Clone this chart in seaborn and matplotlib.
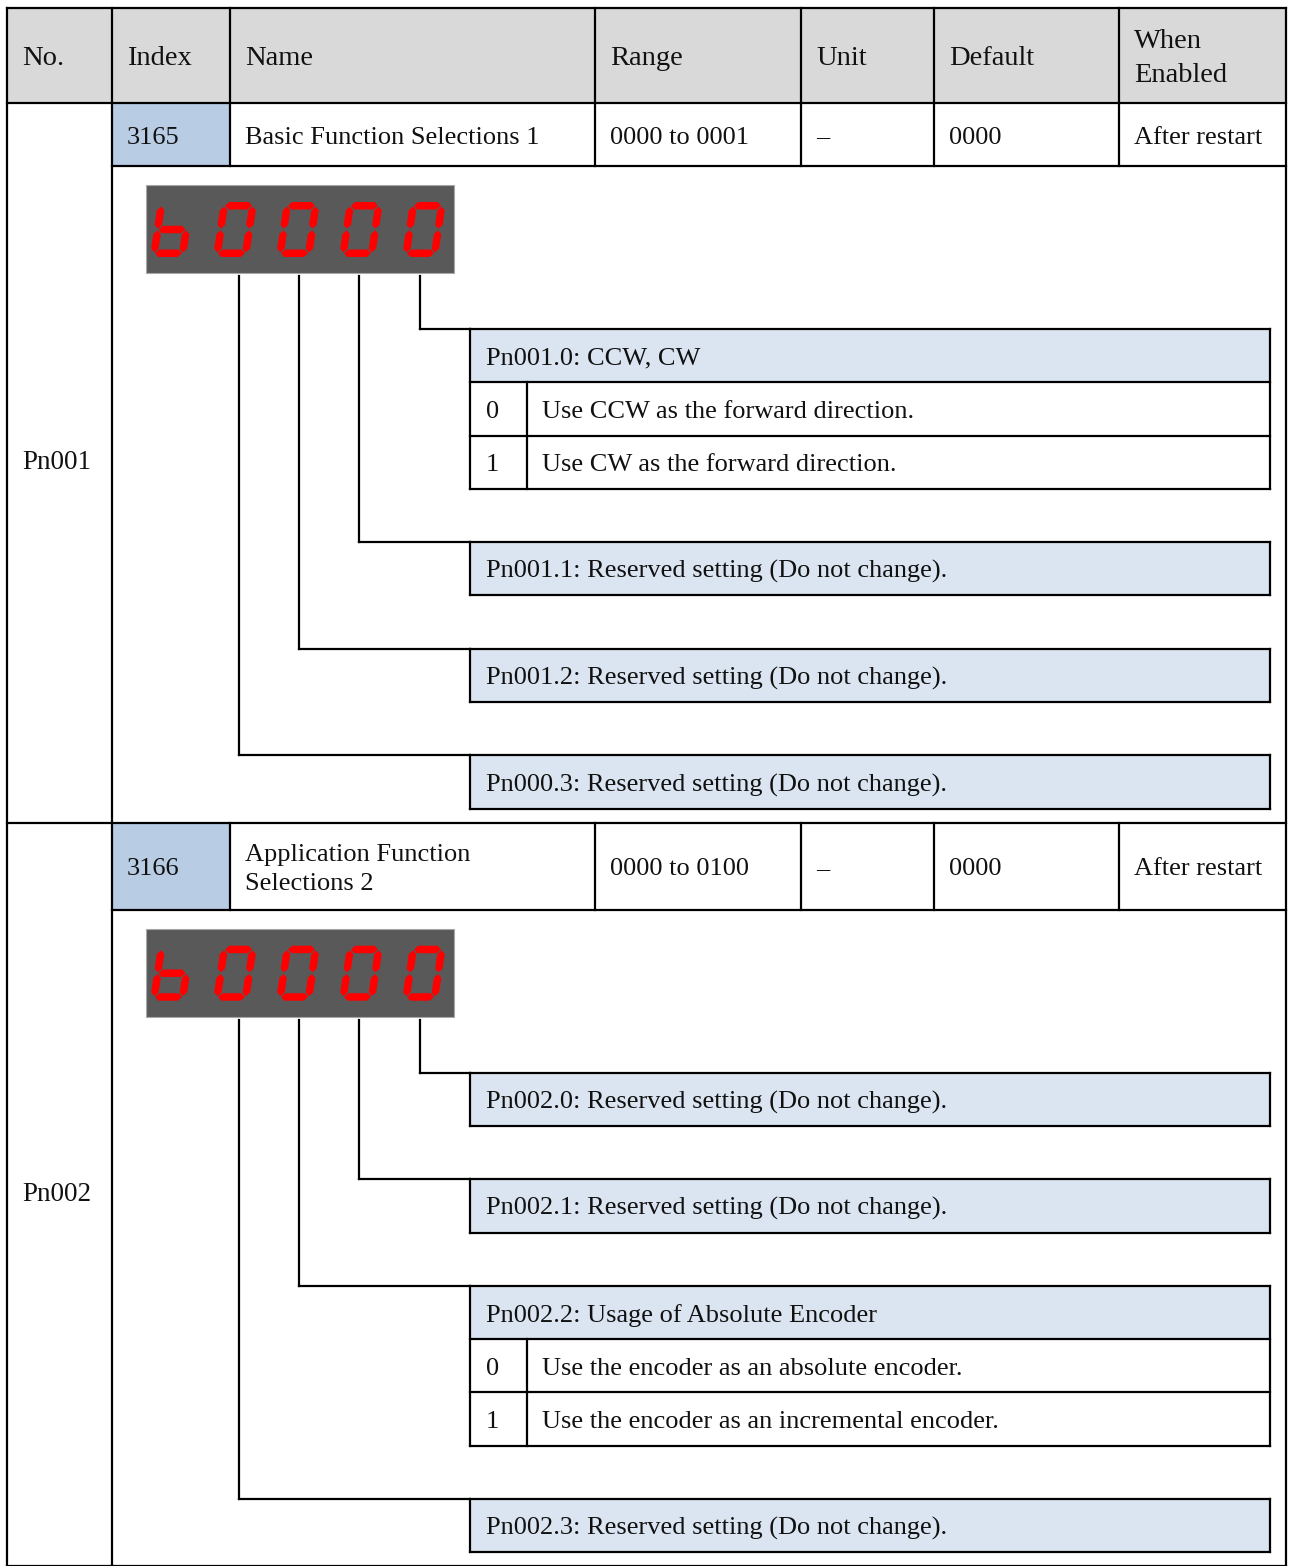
import matplotlib
matplotlib.use("Agg")
import matplotlib.pyplot as plt
from matplotlib.patches import Rectangle, Polygon
import seaborn as sns

# table header and the two parameter rows
headers = ["No.", "Index", "Name", "Range", "Unit", "Default", "When\nEnabled"]
param_no = ["Pn001", "Pn002"]
param_index = ["3165", "3166"]
param_name = ["Basic Function Selections 1", "Application Function\nSelections 2"]
param_range = ["0000 to 0001", "0000 to 0100"]
param_unit = ["\u2013", "\u2013"]
param_default = ["0000", "0000"]
param_enabled = ["After restart", "After restart"]

# what the panel shows, and which segments are lit for each glyph
display_text = "b0000"
segments_on = {"b": "cdefg", "0": "abcdef"}

# digit descriptions, digit .0 first
pn001_titles = ["Pn001.0: CCW, CW",
                "Pn001.1: Reserved setting (Do not change).",
                "Pn001.2: Reserved setting (Do not change).",
                "Pn000.3: Reserved setting (Do not change)."]
pn001_options = [[("0", "Use CCW as the forward direction."),
                  ("1", "Use CW as the forward direction.")], [], [], []]
pn002_titles = ["Pn002.0: Reserved setting (Do not change).",
                "Pn002.1: Reserved setting (Do not change).",
                "Pn002.2: Usage of Absolute Encoder",
                "Pn002.3: Reserved setting (Do not change)."]
pn002_options = [[], [],
                 [("0", "Use the encoder as an absolute encoder."),
                  ("1", "Use the encoder as an incremental encoder.")], []]

sections = [(pn001_titles, pn001_options), (pn002_titles, pn002_options)]

# layout (pixels)
W, H = 1292, 1566
col_x = [7, 112, 230, 595, 801, 934, 1119, 1286]
top, header_bot = 8, 103
row_heights = [63, 87]
connect_x = [420, 359, 299, 239]
box_l, box_r, opt_div = 470, 1270, 527
line_h = 53.3
LW = 1.6
INK = "#111111"
DY = 3  # text sits a little below the geometric middle

sns.set_theme(style="white")
plt.rcParams["font.family"] = ["Liberation Serif", "DejaVu Serif"]

fig = plt.figure(figsize=(W / 100, H / 100), dpi=100)
ax = fig.add_axes([0, 0, 1, 1])
ax.set_xlim(0, W)
ax.set_ylim(H, 0)
ax.axis("off")


def hline(y, x1, x2):
    ax.plot([x1, x2], [y, y], color="black", lw=LW, solid_capstyle="projecting")


def vline(x, y1, y2):
    ax.plot([x, x], [y1, y2], color="black", lw=LW, solid_capstyle="projecting")


def seg_poly(name, Wd=36, Hd=55, t=7.5, gap=0.8):
    ht = t / 2
    if name in "agd":
        yv = {"a": Hd - ht, "g": Hd / 2, "d": ht}[name]
        x1, x2 = ht + gap, Wd - ht - gap
        return [(x1, yv), (x1 + ht, yv + ht), (x2 - ht, yv + ht),
                (x2, yv), (x2 - ht, yv - ht), (x1 + ht, yv - ht)]
    xv = ht if name in "fe" else Wd - ht
    if name in "fb":
        y1, y2 = Hd / 2 + gap, Hd - ht - gap
    else:
        y1, y2 = ht + gap, Hd / 2 - gap
    return [(xv, y1), (xv + ht, y1 + ht), (xv + ht, y2 - ht),
            (xv, y2), (xv - ht, y2 - ht), (xv - ht, y1 + ht)]


def draw_display(y_top):
    ax.add_patch(Rectangle((146, y_top), 308, 88, facecolor="#595959",
                           edgecolor="#a8a8a8", lw=0.8))
    base = y_top + 72
    for j, ch in enumerate(display_text):
        x0 = 150 + 63 * j
        for s in segments_on[ch]:
            pts = [(x0 + x + 8 * y / 55, base - y) for x, y in seg_poly(s)]
            ax.add_patch(Polygon(pts, closed=True, facecolor="#ff0000",
                                 edgecolor="none"))


def draw_box(y_top, title, options):
    n = 1 + len(options)
    y_bot = y_top + n * line_h
    ax.add_patch(Rectangle((box_l, y_top), box_r - box_l, line_h,
                           facecolor="#dbe5f1", edgecolor="none"))
    ax.text(box_l + 16, y_top + line_h / 2 + DY, title, fontsize=19,
            color=INK, va="center", ha="left")
    for k, (val, desc) in enumerate(options):
        yc = y_top + (k + 1.5) * line_h + DY
        ax.text(box_l + 16, yc, val, fontsize=19, color=INK, va="center")
        ax.text(opt_div + 15, yc, desc, fontsize=19, color=INK, va="center")
        hline(y_top + (k + 1) * line_h, box_l, box_r)
    if options:
        vline(opt_div, y_top + line_h, y_bot)
    hline(y_top, box_l, box_r)
    hline(y_bot, box_l, box_r)
    vline(box_l, y_top, y_bot)
    vline(box_r, y_top, y_bot)
    return y_bot


# header row
ax.add_patch(Rectangle((col_x[0], top), col_x[-1] - col_x[0], header_bot - top,
                       facecolor="#d9d9d9", edgecolor="none"))
for k, lab in enumerate(headers):
    ax.text(col_x[k] + 15, (top + header_bot) / 2 + DY, lab, fontsize=20.5,
            color=INK, va="center", ha="left", linespacing=1.45)
hline(top, col_x[0], col_x[-1])
hline(header_bot, col_x[0], col_x[-1])
for x in col_x[1:-1]:
    vline(x, top, header_bot)

y0 = header_bot
values = [param_index, param_name, param_range, param_unit,
          param_default, param_enabled]
for i, (titles, options) in enumerate(sections):
    row_bot = y0 + row_heights[i]
    yc = (y0 + row_bot) / 2 + DY
    ax.add_patch(Rectangle((col_x[1], y0), col_x[2] - col_x[1], row_heights[i],
                           facecolor="#b8cce4", edgecolor="none"))
    for k, vals in enumerate(values):
        ax.text(col_x[k + 1] + 15, yc, vals[i], fontsize=19, color=INK,
                va="center", ha="left", linespacing=1.4)
    for x in col_x[2:-1]:
        vline(x, y0, row_bot)
    hline(row_bot, col_x[1], col_x[-1])

    disp_top = row_bot + 19
    draw_display(disp_top)
    y_box = disp_top + 88 + 56
    for k in range(4):
        cx = connect_x[k]
        vline(cx, disp_top + 91, y_box)
        hline(y_box, cx, box_l)
        y_end = draw_box(y_box, titles[k], options[k])
        y_box = y_end + line_h
    sec_bot = y_end + 14
    ax.text(col_x[0] + 15, (y0 + sec_bot) / 2, param_no[i], fontsize=19.5,
            color=INK, va="center", ha="left")
    hline(sec_bot, col_x[0], col_x[-1])
    y0 = sec_bot

# outer verticals run the full height
vline(col_x[0], top, H + 5)
vline(col_x[1], header_bot, H + 5)
vline(col_x[-1], top, H + 5)

fig.savefig("out.png", dpi=100)
